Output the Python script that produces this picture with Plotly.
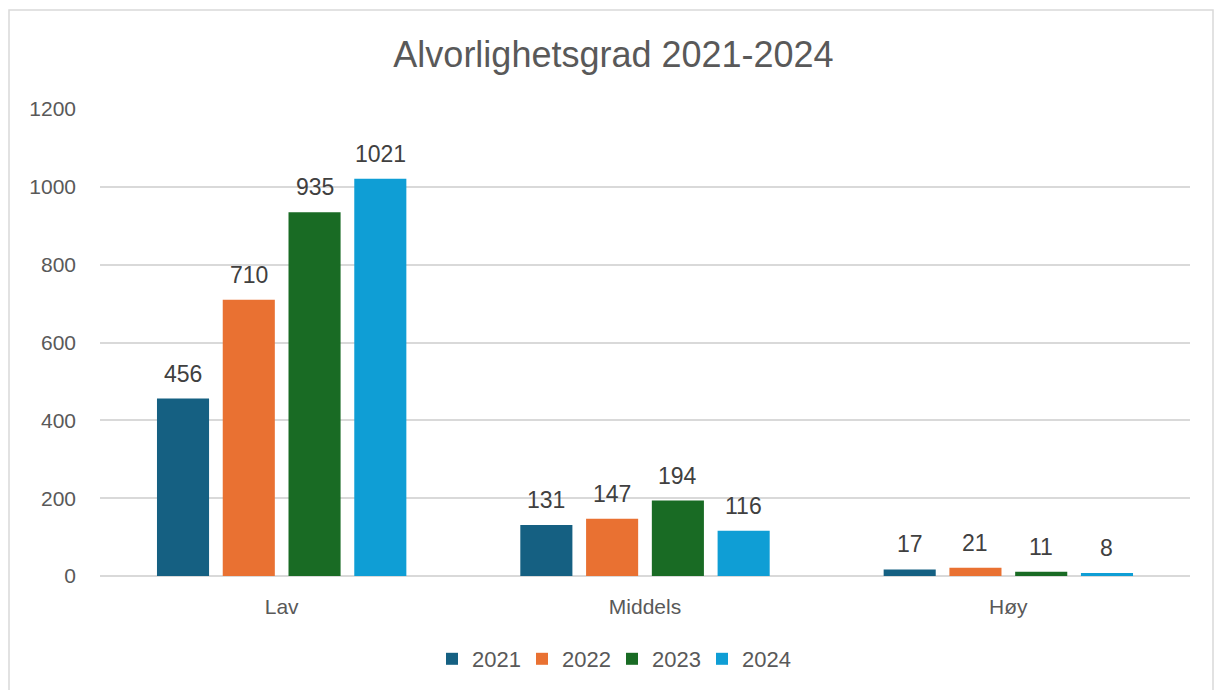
import plotly.graph_objects as go

categories = ["Lav", "Middels", "Høy"]
years = ["2021", "2022", "2023", "2024"]
values_2021 = [456, 131, 17]
values_2022 = [710, 147, 21]
values_2023 = [935, 194, 11]
values_2024 = [1021, 116, 8]
series = [values_2021, values_2022, values_2023, values_2024]
colors = ["#156082", "#E97132", "#196B24", "#0F9ED5"]

W, H = 1215, 690
ML, MR, MT, MB = 100, 25, 109, 114
bargap = 0.276
bargroupgap = 0.208
FONT = "Liberation Sans"

fig = go.Figure()
for name, vals, col in zip(years, series, colors):
    fig.add_trace(go.Bar(x=categories, y=vals, name=name, marker_color=col,
                         marker_line_width=0))

plot_w = W - ML - MR
plot_h = H - MT - MB
cat_w = plot_w / len(categories)
slot = (1 - bargap) * cat_w / len(years)
for i, vals in enumerate(series):
    for c, v in zip(categories, vals):
        fig.add_annotation(x=c, y=v, text=str(v), showarrow=False,
                           xref="x", yref="y", yanchor="bottom",
                           xshift=(i - 1.5) * slot, yshift=10,
                           font=dict(family=FONT, size=23, color="#404040"))

def px_x(p):
    return (p - ML) / plot_w

def px_y(p):
    return (MT + plot_h - p) / plot_h

# outer chart border
fig.add_shape(type="rect", xref="paper", yref="paper",
              x0=px_x(9), x1=px_x(1213), y0=px_y(720), y1=px_y(10),
              line=dict(color="#d9d9d9", width=1.5), fillcolor="rgba(0,0,0,0)",
              layer="below")

fig.update_layout(
    width=W, height=H,
    margin=dict(l=ML, r=MR, t=MT, b=MB, autoexpand=False),
    paper_bgcolor="white", plot_bgcolor="white",
    barmode="group", bargap=bargap, bargroupgap=bargroupgap,
    title=dict(text="Alvorlighetsgrad 2021-2024", x=613.5 / W, xanchor="center",
               y=1 - 54 / H, yanchor="middle",
               font=dict(family=FONT, size=36, color="#595959")),
    font=dict(family=FONT, size=21, color="#595959"),
    legend=dict(orientation="h", x=0.5 - 33 / plot_w, xanchor="center",
                y=px_y(659), yanchor="middle",
                font=dict(family=FONT, size=22, color="#595959"),
                itemwidth=30, traceorder="normal",
                entrywidth=45, entrywidthmode="pixels"),
    showlegend=True,
)
fig.update_yaxes(range=[0, 1200], dtick=200, showgrid=True,
                 gridcolor="#d9d9d9", gridwidth=1.5, zeroline=True,
                 zerolinecolor="#d9d9d9", zerolinewidth=1.5,
                 ticklabelstandoff=23, showline=False, automargin=False,
                 tickfont=dict(family=FONT, size=21, color="#595959"))
fig.update_xaxes(showgrid=False, showline=False, ticks="", automargin=False,
                 ticklabelstandoff=16,
                 tickfont=dict(family=FONT, size=21, color="#595959"))

fig.write_html(
    "out.html",
    config={"displayModeBar": False},
    post_script="document.body.style.margin='0';document.body.style.overflow='hidden';",
)
